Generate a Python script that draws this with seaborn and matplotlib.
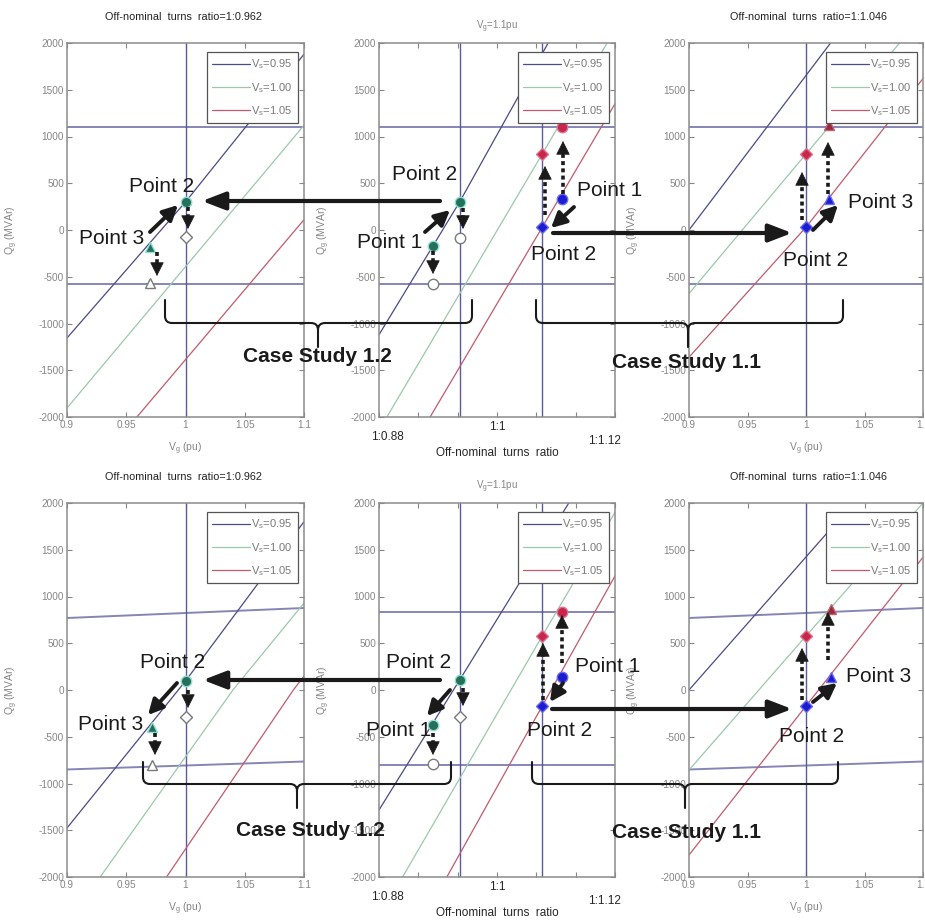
import numpy as np
import matplotlib
matplotlib.use("Agg")
import matplotlib.pyplot as plt
import seaborn as sns
from matplotlib.path import Path
from matplotlib.patches import PathPatch

sns.set_theme(style="white")
plt.rcParams['font.family'] = ['Liberation Sans', 'DejaVu Sans']
plt.rcParams['mathtext.default'] = 'regular'
plt.rcParams['axes.unicode_minus'] = False

W, H = 925, 923

# ---------------------------------------------------------------- data
vs_labels = ["V$_s$=0.95", "V$_s$=1.00", "V$_s$=1.05"]

# Qg (MVAr) curves for each Vs, sampled at a few points
# top row: Qg limits fixed
tl_cx = [[0.90, 1.00, 1.10], [0.90, 1.10], [0.959, 1.10]]
tl_cq = [[-1155, 300, 1880], [-1904, 1120], [-2000, 110]]
tm_cx = [[0.88, 0.962, 1.052], [0.888, 1.046, 1.112], [0.932, 1.046, 1.12]]
tm_cq = [[-1120, 300, 2000], [-2000, 813, 2000], [-2000, 30, 1350]]
tr_cx = [[0.90, 1.021], [0.90, 1.00, 1.08], [0.90, 1.00, 1.10]]
tr_cq = [[0, 2000], [-680, 813, 2000], [-1360, 30, 1620]]
# bottom row: Qg limits depend on Vg
bl_cx = [[0.90, 1.00, 1.10], [0.928, 1.04, 1.10], [0.984, 1.091, 1.10]]
bl_cq = [[-1476, 96, 1800], [-2000, 0, 930], [-2000, 0, 150]]
bm_cx = [[0.88, 0.962, 1.073], [0.904, 1.046, 1.12], [0.949, 1.046, 1.12]]
bm_cq = [[-1283, 107, 2000], [-2000, 578, 1900], [-2000, -171, 1220]]
br_cx = [[0.90, 1.03], [0.90, 1.00, 1.10], [0.90, 1.00, 1.10]]
br_cq = [[0, 1850], [-856, 578, 2000], [-1765, -171, 1420]]

# Qg limit lines
top_qmax_x, top_qmax_q = [0.80, 1.20], [1100, 1100]
top_qmin_x, top_qmin_q = [0.80, 1.20], [-580, -580]
bv_qmax_x, bv_qmax_q = [0.90, 1.10], [770, 877]
bv_qmin_x, bv_qmin_q = [0.90, 1.10], [-850, -765]
bm_qmax_x, bm_qmax_q = [0.80, 1.20], [834, 834]
bm_qmin_x, bm_qmin_q = [0.80, 1.20], [-800, -800]

# operating points
tl_px = [1.00, 1.00, 0.970, 0.970]
tl_pq = [300, -75, -180, -570]
tm_px = [0.962, 0.962, 0.935, 0.935, 1.046, 1.046, 1.066, 1.066]
tm_pq = [300, -86, -171, -580, 30, 813, 331, 1100]
tr_px = [1.00, 1.00, 1.020, 1.020]
tr_pq = [30, 813, 331, 1123]
bl_px = [1.00, 1.00, 0.972, 0.972]
bl_pq = [96, -289, -396, -800]
bm_px = [0.962, 0.962, 0.935, 0.935, 1.046, 1.046, 1.066, 1.066]
bm_pq = [107, -289, -374, -791, -171, 578, 139, 834]
br_px = [1.00, 1.00, 1.021, 1.021]
br_pq = [-171, 578, 139, 866]

vg_ticks = [0.9, 0.95, 1.0, 1.05, 1.1]
vg_ticklabels = ["0.9", "0.95", "1", "1.05", "1.1"]
ratio_ticks = [0.88, 0.92, 0.96, 1.00, 1.04, 1.08, 1.12]
q_ticks = [-2000, -1500, -1000, -500, 0, 500, 1000, 1500, 2000]
ratio_marks = ["1:0.88", "1:1", "1:1.12"]
ratio_taps = [0.962, 1.046]

# ---------------------------------------------------------------- styles
line_colors = ['#5b5b9e', '#78b496', '#c27485']
legend_colors = ['#4b4b85', '#9cc8ac', '#c25a6c']
limit_color = '#8585b8'
vline_color = '#5a5aa0'
grey = '#858585'

GREEN = dict(mfc='#24705a', mec='#8fdcd0')
BLUE = dict(mfc='#1c1cd0', mec='#6a6af0')
RED = dict(mfc='#c8264a', mec='#e07090')
DRED = dict(mfc='#9a2a3c', mec='#c06070')
HOLLOW = dict(mfc='white', mec='#7a7a7a')

side_left_styles = [('o', GREEN), ('D', HOLLOW), ('^', GREEN), ('^', HOLLOW)]
mid_styles = [('o', GREEN), ('o', HOLLOW), ('o', GREEN), ('o', HOLLOW),
              ('D', BLUE), ('D', RED), ('o', BLUE), ('o', RED)]
mid_styles_b = [('o', GREEN), ('D', HOLLOW), ('o', GREEN), ('o', HOLLOW),
                ('D', BLUE), ('D', RED), ('o', BLUE), ('o', RED)]
side_right_styles = [('D', BLUE), ('D', RED), ('^', BLUE), ('^', DRED)]

fig = plt.figure(figsize=(W / 100, H / 100), dpi=100)


def px_axes(x0, y0, x1, y1):
    return fig.add_axes([x0 / W, 1 - y1 / H, (x1 - x0) / W, (y1 - y0) / H])


def panel(box, cx, cq, xlim, xticks, xticklabels, vlines, qmax, qmin,
          px, pq, styles, ratio=False):
    ax = px_axes(*box)
    for xs, qs, c, lab in zip(cx, cq, line_colors, vs_labels):
        sns.lineplot(x=xs, y=qs, ax=ax, color=c, lw=0.9, label=lab,
                     estimator=None, sort=False)
    for (lx, lq) in (qmax, qmin):
        ax.plot(lx, lq, color=limit_color, lw=1.4, zorder=1)
    for v in vlines:
        ax.axvline(v, color=vline_color, lw=1.0, zorder=1)
    for x, q, (m, st) in zip(px, pq, styles):
        ax.plot([x], [q], ls='none', marker=m, ms=7.5 if m != 'D' else 6,
                mew=1.0, zorder=5, **st)
    ax.set_xlim(*xlim)
    ax.set_ylim(-2000, 2000)
    ax.set_yticks(q_ticks)
    ax.set_xticks(xticks)
    if ratio:
        ax.set_xticklabels([])
    else:
        ax.set_xticklabels(xticklabels)
        ax.set_xlabel("V$_g$ (pu)", fontsize=7.5, color=grey)
        ax.xaxis.set_label_coords(0.5, -0.062)
    ax.set_ylabel("Q$_g$ (MVAr)", fontsize=7.5, color=grey)
    ax.yaxis.set_label_coords(-0.2, 0.5)
    ax.tick_params(direction='in', length=3.5, width=0.8, colors=grey,
                   labelsize=7.2, pad=2, top=True, right=True,
                   bottom=True, left=True)
    for s in ax.spines.values():
        s.set_color('#8c8c8c')
        s.set_linewidth(1.1)
    ax.grid(False)
    handles, labels = ax.get_legend_handles_labels()
    for h, c in zip(handles, legend_colors):
        h.set_color(c)
    leg = ax.legend(handles, labels, loc='upper right',
                    bbox_to_anchor=(0.975, 0.976), borderaxespad=0,
                    fontsize=8, frameon=True, fancybox=False,
                    edgecolor='#555555', framealpha=1, handlelength=3.4,
                    handletextpad=0.1, labelspacing=0.85, borderpad=0.5)
    leg.get_frame().set_linewidth(0.9)
    for t in leg.get_texts():
        t.set_color('#7a7a7a')
    return ax


rows = [(43, 417), (503, 877)]
top_lims = ((top_qmax_x, top_qmax_q), (top_qmin_x, top_qmin_q))
bot_side = ((bv_qmax_x, bv_qmax_q), (bv_qmin_x, bv_qmin_q))
bot_mid = ((bm_qmax_x, bm_qmax_q), (bm_qmin_x, bm_qmin_q))

(y0, y1) = rows[0]
panel((67, y0, 304, y1), tl_cx, tl_cq, (0.9, 1.1), vg_ticks, vg_ticklabels,
      [1.0], *top_lims, tl_px, tl_pq, side_left_styles)
panel((379, y0, 615, y1), tm_cx, tm_cq, (0.88, 1.12), ratio_ticks, None,
      ratio_taps, *top_lims, tm_px, tm_pq, mid_styles, ratio=True)
panel((689, y0, 923, y1), tr_cx, tr_cq, (0.9, 1.1), vg_ticks, vg_ticklabels,
      [1.0], *top_lims, tr_px, tr_pq, side_right_styles)
(y0, y1) = rows[1]
panel((67, y0, 304, y1), bl_cx, bl_cq, (0.9, 1.1), vg_ticks, vg_ticklabels,
      [1.0], *bot_side, bl_px, bl_pq, side_left_styles)
panel((379, y0, 615, y1), bm_cx, bm_cq, (0.88, 1.12), ratio_ticks, None,
      ratio_taps, *bot_mid, bm_px, bm_pq, mid_styles_b, ratio=True)
panel((689, y0, 923, y1), br_cx, br_cq, (0.9, 1.1), vg_ticks, vg_ticklabels,
      [1.0], *bot_side, br_px, br_pq, side_right_styles)

# ---------------------------------------------------------------- overlay
ov = fig.add_axes([0, 0, 1, 1])
ov.set_xlim(0, W)
ov.set_ylim(H, 0)
ov.axis('off')
ov.set_zorder(10)
ov.patch.set_alpha(0)

for dy in (0, 460):
    ov.text(183, 17 + dy, "Off-nominal  turns  ratio=1:0.962", fontsize=7.8,
            ha='center', va='center', color='#222222')
    ov.text(808, 17 + dy, "Off-nominal  turns  ratio=1:1.046", fontsize=7.8,
            ha='center', va='center', color='#222222')
    ov.text(497, 27 + dy, "V$_g$=1.1pu", fontsize=7, ha='center',
            va='center', color=grey)
    # ratio axis labels of the middle panel
    ov.text(371, 437 + dy, ratio_marks[0], fontsize=8.5, ha='left', va='center')
    ov.text(497, 427 + dy, ratio_marks[1], fontsize=8.5, ha='center', va='center')
    ov.text(588, 441 + dy, ratio_marks[2], fontsize=8.5, ha='left', va='center')
    ov.text(497, 453 + dy, "Off-nominal  turns  ratio", fontsize=8.5,
            ha='center', va='center')


def solid_arrow(tail, head, lw=2.8, scale=12, hl=0.75, hw=0.38):
    ov.annotate('', xy=head, xytext=tail,
                arrowprops=dict(arrowstyle=f'-|>,head_length={hl},head_width={hw}',
                                color='k', lw=lw, mutation_scale=scale,
                                shrinkA=0, shrinkB=0))


def long_arrow(tail, head):
    solid_arrow(tail, head, lw=3.0, scale=20, hl=0.7, hw=0.27)


def dashed_arrow(tail, head):
    x0, y0 = tail
    x1, y1 = head
    d = np.hypot(x1 - x0, y1 - y0)
    ux, uy = (x1 - x0) / d, (y1 - y0) / d
    hl = 9
    ov.plot([x0, x1 - ux * hl], [y0, y1 - uy * hl], color='k', lw=2.6,
            ls=(0, (1.1, 0.9)), solid_capstyle='butt', dash_capstyle='butt')
    ov.annotate('', xy=head, xytext=(x1 - ux * hl, y1 - uy * hl),
                arrowprops=dict(arrowstyle='-|>,head_length=0.9,head_width=0.45',
                                color='k', lw=0.5, mutation_scale=10,
                                shrinkA=0, shrinkB=0))


def brace(xl, xtip, xr, ytop, ymid, ybot, r=7):
    verts = [(xl, ytop), (xl, ymid - r), (xl, ymid), (xl + r, ymid),
             (xtip - r, ymid), (xtip, ymid), (xtip, ymid + r), (xtip, ybot),
             (xtip, ymid + r), (xtip, ymid), (xtip + r, ymid),
             (xr - r, ymid), (xr, ymid), (xr, ymid - r), (xr, ytop)]
    codes = [Path.MOVETO, Path.LINETO, Path.CURVE3, Path.CURVE3,
             Path.LINETO, Path.CURVE3, Path.CURVE3, Path.LINETO,
             Path.MOVETO, Path.CURVE3, Path.CURVE3,
             Path.LINETO, Path.CURVE3, Path.CURVE3, Path.LINETO]
    ov.add_patch(PathPatch(Path(verts, codes), fill=False, lw=1.5,
                           edgecolor='k', capstyle='round'))


def label(x, y, s):
    ov.text(x, y, s, fontsize=15, ha='center', va='center', color='k')


def case(x, y, s):
    ov.text(x, y, s, fontsize=15, ha='center', va='center', color='k',
            fontweight='bold')


# top row annotations
label(162, 187, "Point 2")
label(112, 238, "Point 3")
label(425, 174, "Point 2")
label(390, 242, "Point 1")
label(610, 190, "Point 1")
label(564, 255, "Point 2")
label(881, 202, "Point 3")
label(816, 260, "Point 2")
case(317, 356, "Case Study 1.2")
case(687, 363, "Case Study 1.1")
long_arrow((440, 201), (202, 201))
long_arrow((553, 233), (792, 233))
solid_arrow((150, 232), (178, 205))
solid_arrow((425, 232), (450, 210))
solid_arrow((574, 207), (551, 228))
solid_arrow((813, 230), (838, 205))
dashed_arrow((188, 207), (188, 229))
dashed_arrow((157, 252), (157, 276))
dashed_arrow((463, 208), (463, 229))
dashed_arrow((433, 251), (433, 274))
dashed_arrow((545, 215), (545, 166))
dashed_arrow((563, 194), (563, 141))
dashed_arrow((802, 220), (802, 172))
dashed_arrow((828, 194), (828, 142))
brace(165, 318, 472, 300, 323, 347)
brace(536, 688, 843, 300, 323, 347)

# bottom row annotations
label(173, 663, "Point 2")
label(111, 725, "Point 3")
label(419, 662, "Point 2")
label(399, 730, "Point 1")
label(560, 730, "Point 2")
label(608, 667, "Point 1")
label(879, 677, "Point 3")
label(812, 737, "Point 2")
case(310, 830, "Case Study 1.2")
case(687, 833, "Case Study 1.1")
long_arrow((440, 680), (203, 680))
long_arrow((552, 709), (792, 709))
solid_arrow((177, 683), (148, 715))
solid_arrow((450, 690), (427, 716))
solid_arrow((563, 683), (550, 702))
solid_arrow((813, 702), (837, 683))
dashed_arrow((188, 690), (188, 708))
dashed_arrow((155, 733), (155, 755))
dashed_arrow((463, 688), (463, 706))
dashed_arrow((433, 733), (433, 755))
dashed_arrow((543, 700), (543, 643))
dashed_arrow((562, 663), (562, 615))
dashed_arrow((802, 700), (802, 648))
dashed_arrow((828, 660), (828, 612))
brace(143, 297, 451, 762, 784, 808)
brace(532, 685, 838, 762, 784, 808)

fig.savefig("out.png", dpi=100, facecolor='white')
